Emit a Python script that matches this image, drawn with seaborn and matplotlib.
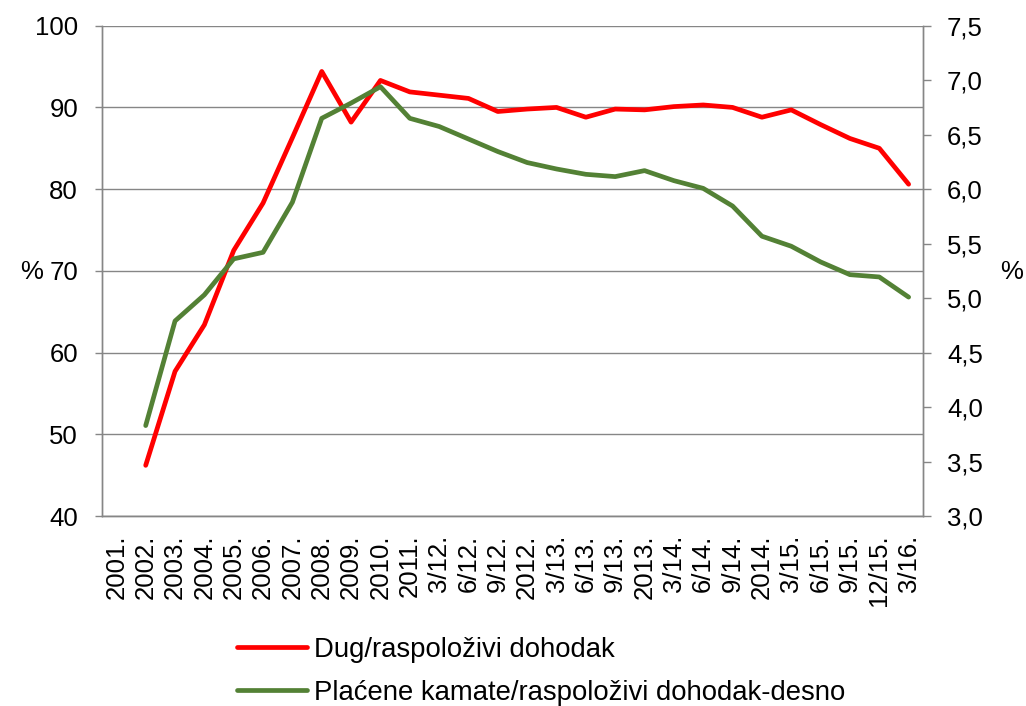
import numpy as np
import pandas as pd
import matplotlib
matplotlib.use("Agg")
import matplotlib.pyplot as plt
from matplotlib.ticker import FuncFormatter, MultipleLocator
import seaborn as sns

categories = ["2001.", "2002.", "2003.", "2004.", "2005.", "2006.", "2007.", "2008.",
              "2009.", "2010.", "2011.", "3/12.", "6/12.", "9/12.", "2012.", "3/13.",
              "6/13.", "9/13.", "2013.", "3/14.", "6/14.", "9/14.", "2014.", "3/15.",
              "6/15.", "9/15.", "12/15.", "3/16."]

# series start at 2002.
debt_ratio = [46.2, 57.7, 63.4, 72.5, 78.3, 86.3, 94.4, 88.2, 93.3, 91.9, 91.5, 91.1,
              89.5, 89.8, 90.0, 88.8, 89.8, 89.7, 90.1, 90.3, 90.0, 88.8, 89.7, 87.9,
              86.2, 85.0, 80.6]
interest_ratio = [3.83, 4.79, 5.03, 5.36, 5.42, 5.88, 6.65, 6.79, 6.94, 6.65, 6.575, 6.46,
                  6.345, 6.244, 6.185, 6.136, 6.115, 6.17, 6.078, 6.007, 5.845, 5.568,
                  5.476, 5.332, 5.215, 5.194, 5.009]

label_debt = "Dug/raspoloživi dohodak"
label_int = "Plaćene kamate/raspoloživi dohodak-desno"

sns.set_theme(style="white")
plt.rcParams["font.family"] = ["Liberation Sans", "DejaVu Sans"]
plt.rcParams["text.color"] = "black"
plt.rcParams["axes.labelcolor"] = "black"

FS = 18.5
FS_LEG = 19.8
GREY = "#868686"
RED = "#FF0000"
GREEN = "#538135"

start = len(categories) - len(debt_ratio)
df = pd.DataFrame({
    "pos": np.arange(start, len(categories)),
    "debt": debt_ratio,
    "interest": interest_ratio,
})

fig = plt.figure(figsize=(10.26, 7.06), dpi=100)
ax = fig.add_axes([0.0991, 0.2691, 0.8008, 0.6945])
ax2 = ax.twinx()

sns.lineplot(data=df, x="pos", y="debt", ax=ax, color=RED, linewidth=3.4,
             label=label_debt, solid_capstyle="round", solid_joinstyle="round")
sns.lineplot(data=df, x="pos", y="interest", ax=ax2, color=GREEN, linewidth=3.4,
             label=label_int, solid_capstyle="round", solid_joinstyle="round")

h1, l1 = ax.get_legend_handles_labels()
h2, l2 = ax2.get_legend_handles_labels()
for a in (ax, ax2):
    if a.get_legend() is not None:
        a.get_legend().remove()

ax.set_xlim(-0.5, len(categories) - 0.5)
ax.set_ylim(40, 100)
ax2.set_ylim(3.0, 7.5)

# x axis
ax.set_xticks(np.arange(len(categories)))
ax.set_xticklabels(categories, rotation=90, va="top", ha="center", fontsize=FS)
ax.set_xticks(np.arange(-0.5, len(categories), 1.0), minor=True)
ax.tick_params(axis="x", which="major", length=0, pad=13.5, labelcolor="black")
ax.tick_params(axis="x", which="minor", length=5.8, width=1.0, color=GREY, direction="out")

# left y
ax.yaxis.set_major_locator(MultipleLocator(10))
ax.tick_params(axis="y", which="major", length=5, width=1.0, color=GREY,
               direction="out", labelsize=FS, pad=12, labelcolor="black", left=True)
ax.grid(axis="y", color=GREY, linewidth=1.0)
ax.grid(axis="x", visible=False)

# right y
ax2.yaxis.set_major_locator(MultipleLocator(0.5))
ax2.yaxis.set_major_formatter(FuncFormatter(lambda v, p: f"{v:.1f}".replace(".", ",")))
ax2.tick_params(axis="y", which="major", length=5.5, width=1.0, color=GREY,
                direction="out", labelsize=FS, pad=11.5, labelcolor="black", right=True)
ax2.grid(False)

for a in (ax, ax2):
    a.set_xlabel("")
    a.spines["top"].set_visible(False)
    for s in ("left", "right", "bottom"):
        a.spines[s].set_color(GREY)
        a.spines[s].set_linewidth(1.0)

ax.set_ylabel("%", rotation=0, fontsize=FS, ha="center", va="center", color="black")
ax.yaxis.set_label_coords(-0.0848, 0.4977)
ax2.set_ylabel("%", rotation=0, fontsize=FS, ha="center", va="center", color="black")
ax2.yaxis.set_label_coords(1.108, 0.4977)

leg = fig.legend(h1 + h2, l1 + l2, loc="upper left", bbox_to_anchor=(0.2307, 0.098),
                 frameon=False, fontsize=FS_LEG, handlelength=2.55, handletextpad=0.25,
                 labelspacing=0.62, borderpad=0, borderaxespad=0)
for t in leg.get_texts():
    t.set_color("black")

fig.savefig("out.png", dpi=100, facecolor="white")
